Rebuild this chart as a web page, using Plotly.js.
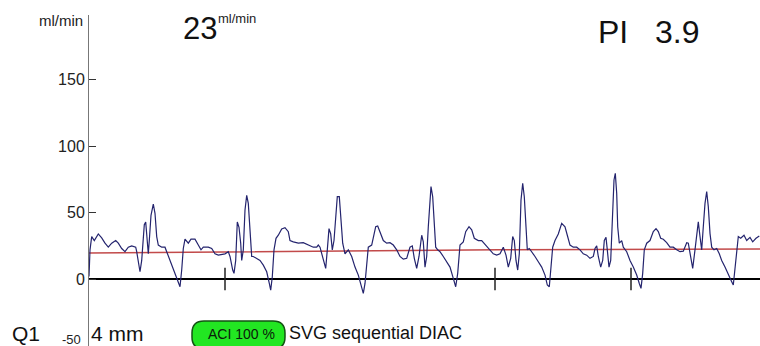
<!DOCTYPE html>
<html>
<head>
<meta charset="utf-8">
<script src="https://cdn.plot.ly/plotly-3.0.1.min.js"></script>
<style>html,body{margin:0;padding:0;background:#fff;}#chart{width:760px;height:346px;}</style>
</head>
<body>
<div id="chart"></div>
<script>
// Flow waveform (time in sample units, flow in ml/min)
const flowTime = [0,1,2.7,5.3,9.3,12.7,16,19.3,22.7,26.7,29.3,32.7,36,39.3,42.7,46.7,47.7,49.3,51,52.7,54.3,55.3,56.7,58,59.3,60.3,62,64.3,66,67.7,69.3,72.7,76,77.7,81,84.3,87.7,91,92.7,94.3,96,99.3,102,106,109.3,112,114.3,119.3,122.7,126,129.3,134.3,136,139.3,141,143.7,145,146.7,148.3,150,151.7,152.7,154.3,156,157.7,159.3,161,162.7,164.3,167.7,171,174.3,177.7,180.3,181.7,183.3,185,187,189.3,192.7,196,199.3,201,204.3,209.3,214.3,219.3,224.3,227.7,229.3,231,232.7,235,236.7,238.3,240,241.7,243.3,245,247,248.3,250.3,251.7,253.7,256,259.3,262.7,266,269.3,272,274.3,276,277.7,279.3,282.7,284.3,286.7,288.7,291,294.3,297.7,301,304.3,307.7,311,314.3,317.7,321,323.3,325.3,327.7,330,332.7,334.3,336,337.7,339.3,341,342,343.7,345.3,346.7,348.7,351,354.3,357.7,361,364.3,366.7,368.7,371,374.3,376.7,380,382.7,385.3,389.3,392.7,396.7,400,403.3,404.3,407.7,411,414.3,417,419.3,421.7,423.7,425.3,427,428.7,430.3,432,433.7,435.3,437,438.3,440.3,442.7,446,449.3,452.7,456,458.3,460.3,462,463.7,466,469.3,472.7,476,478.3,481,484.3,487.7,491,494.3,497.7,501,504.3,506,507.7,509.3,511.7,513.7,515.3,517,518.3,520,521.7,523.3,525,526.3,527.7,528.7,530.3,532.7,534.3,537.7,541,544.3,547.7,550.3,552,553.7,555.3,557.7,561,564.3,567,569.3,571.7,574.3,577.7,581,584.3,587.7,591,594.3,597.7,599.3,601,603.7,606,607.7,609.3,611,612.7,614.3,616,617.7,619.3,621,622.7,625,627.7,630.3,632.7,636,639.3,642.7,644.3,646,647.7,649.3,651.7,655,657.7,661,663.7,667,670.3];
const flowValues = [2,22,32,29,34,31,27,24,27,29,27,23,20.6,24,25,24,20.6,12,5.5,14,32,41,43,32,19,29,48,56.5,49.5,32,25.6,24,24,20.6,14,6.8,0.5,-5.8,6.8,23,30,27,30,30,25.6,22,24,24,23,19,18,18.6,19,20.6,17,6.8,4.3,14,43,39,27,14,22,52,63,57,32,17,17,15.6,14,10.5,5.5,-3.3,-8.3,1.7,22,30.7,33,37.7,38.7,35.7,29,28,27,27.4,25.6,24,24,25.6,24,19,12,8,22,38,34,22,29,47,62,62,47,27,19,22,17,9,3,-4.5,-10.8,-3.3,14,24,25.6,32,39.4,40,35.7,29,27,27.4,25.6,22,17,15,15.6,24,25,15.6,8,17,33,28,9,17,39.4,59.5,69.6,62,42,24,22,20.6,17,13,9,0.5,-5.8,4.3,25.6,28,35.7,39.4,37,30.7,29,29,25.6,23,20,19,18,19,24,18,9,15.6,32,29,14,6.8,19,59.5,72,62,39.4,22,23,20.6,17,13,9,3,-4.5,-5.8,6.8,24,29,34,42,39.4,33,25.6,24,24,22,19,18,15.6,17,23,25,17,9,14,29,31.4,22,9,14,52,74.6,79.6,64.6,39.4,27,28.9,24,20.6,14,9,3,-3.3,-7,4.3,22,27,29,35.7,38,35.7,30.7,30,27.4,24,24,22,20.6,21,27.4,27,19,8,22,35.7,43,32,22,39.4,57,65.8,54.5,34.4,24,22,23,19,14,9,3,-2,-4.5,6.8,22,32,30.7,33,29,31.4,28,30.7,32.4];

// Running mean flow
const meanTime = [0,130,210,310,410,510,610,671];
const meanValues = [19.6,20.5,21.1,21.8,22.1,22.3,22.5,22.6];

// Beat markers on the baseline
const markerTimes = [136,406,542];

// Axis ticks
const yTickVals = [-50,0,50,100,150];
const yTickText = ['','0','50','100','150'];

// Readouts
const meanFlowText = '23';
const unitText = 'ml/min';
const piLabel = 'PI';
const piValue = '3.9';
const channelText = 'Q1';
const sizeText = '4 mm';
const aciText = 'ACI 100 %';
const graftText = 'SVG sequential DIAC';

const W = 671, H = 331, L = 89, B = 346;
const px = v => (v - L) / W;
const py = v => (B - v) / H;

const REG = 'Liberation Sans, Arial, sans-serif';

const traces = [
  {x: meanTime, y: meanValues, mode: 'lines', line: {color: '#c24a4a', width: 1.5}, hoverinfo: 'skip'},
  {x: flowTime, y: flowValues, mode: 'lines', line: {color: '#24246e', width: 1.2}, hoverinfo: 'skip'},
  {x: markerTimes, y: markerTimes.map(() => 0), mode: 'markers',
   marker: {symbol: 'line-ns', size: 16, color: '#222', line: {color: '#222', width: 1.5}}, hoverinfo: 'skip'}
];

const layout = {
  width: 760, height: 346,
  margin: {l: L, r: 0, t: 15, b: 0},
  paper_bgcolor: '#fff', plot_bgcolor: '#fff',
  showlegend: false,
  xaxis: {range: [0, 671], visible: false, fixedrange: true},
  yaxis: {
    range: [-50.4, 198.8], tickvals: yTickVals, ticktext: yTickText,
    ticks: 'inside', ticklen: 7, tickcolor: '#333', tickwidth: 1,
    showline: true, linecolor: '#777', linewidth: 1,
    showgrid: false, zeroline: true, zerolinecolor: '#000', zerolinewidth: 1.5,
    tickfont: {family: REG, size: 16, color: '#222'}, fixedrange: true
  },
  shapes: [
    {type: 'path', xref: 'paper', yref: 'paper', xsizemode: 'pixel', ysizemode: 'pixel',
     xanchor: px(192), yanchor: py(335),
     path: 'M 12,-14 L 81,-14 Q 93,-14 93,-2 L 93,2 Q 93,14 81,14 L 12,14 Q 0,14 0,2 L 0,-2 Q 0,-14 12,-14 Z',
     fillcolor: '#22e622', line: {color: '#145214', width: 1.5}}
  ],
  annotations: [
    {text: unitText, xref: 'paper', yref: 'paper', x: px(85), y: py(21), xanchor: 'right', yanchor: 'middle', showarrow: false, font: {family: REG, size: 15, color: '#222'}},
    {text: meanFlowText, xref: 'paper', yref: 'paper', x: px(181), y: py(28), xanchor: 'left', yanchor: 'middle', showarrow: false, font: {family: REG, size: 31, color: '#111'}},
    {text: unitText, xref: 'paper', yref: 'paper', x: px(216), y: py(18), xanchor: 'left', yanchor: 'middle', showarrow: false, font: {family: REG, size: 13, color: '#222'}},
    {text: piLabel, xref: 'paper', yref: 'paper', x: px(596), y: py(32), xanchor: 'left', yanchor: 'middle', showarrow: false, font: {family: REG, size: 32, color: '#111'}},
    {text: piValue, xref: 'paper', yref: 'paper', x: px(653), y: py(32), xanchor: 'left', yanchor: 'middle', showarrow: false, font: {family: REG, size: 32, color: '#111'}},
    {text: channelText, xref: 'paper', yref: 'paper', x: px(10), y: py(333), xanchor: 'left', yanchor: 'middle', showarrow: false, font: {family: REG, size: 21, color: '#111'}},
    {text: '-50', xref: 'paper', yref: 'paper', x: px(83), y: py(339), xanchor: 'right', yanchor: 'middle', showarrow: false, font: {family: REG, size: 13, color: '#222'}},
    {text: sizeText, xref: 'paper', yref: 'paper', x: px(89), y: py(333), xanchor: 'left', yanchor: 'middle', showarrow: false, font: {family: REG, size: 21, color: '#111'}},
    {text: aciText, xref: 'paper', yref: 'paper', x: px(241), y: py(334), xanchor: 'center', yanchor: 'middle', showarrow: false, font: {family: REG, size: 14, color: '#0a200a'}},
    {text: graftText, xref: 'paper', yref: 'paper', x: px(287), y: py(333), xanchor: 'left', yanchor: 'middle', showarrow: false, font: {family: REG, size: 18, color: '#111'}}
  ]
};

Plotly.newPlot('chart', traces, layout, {staticPlot: true, displayModeBar: false});
</script>
</body>
</html>
